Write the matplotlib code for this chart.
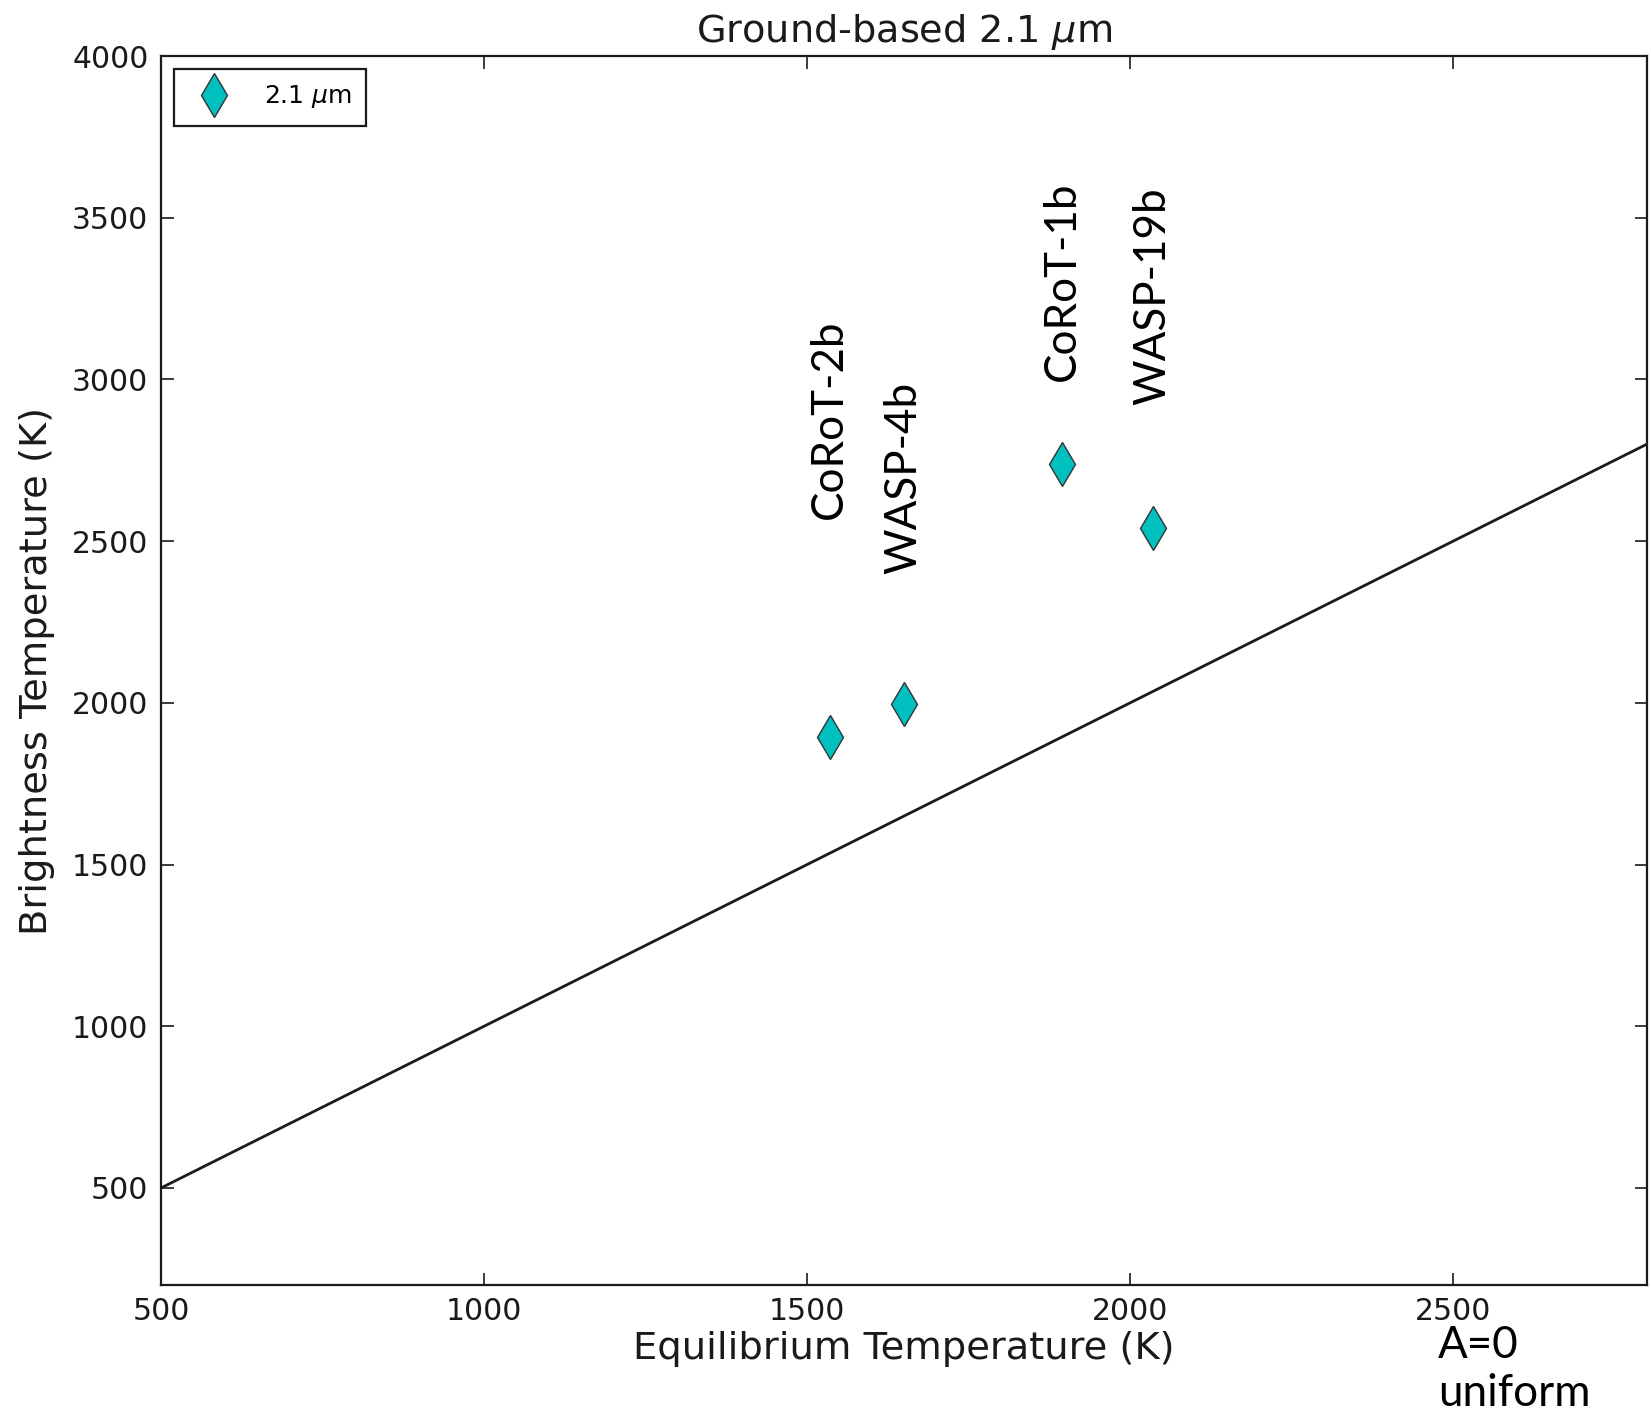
import numpy as np
import matplotlib
matplotlib.use("Agg")
import matplotlib.pyplot as plt

# planets: equilibrium temp vs 2.1 micron brightness temp
planets = ["CoRoT-2b", "WASP-4b", "CoRoT-1b", "WASP-19b"]
t_eq = [1535, 1650, 1895, 2035]
t_bright = [1893, 1995, 2740, 2542]
label_y = [2568, 2399, 2995, 2920]   # where the rotated names start

line_x = [500, 2800]
line_y = [500, 2800]   # A=0, uniform redistribution -> Tb = Teq

xticks = [500, 1000, 1500, 2000, 2500]
yticks = [500, 1000, 1500, 2000, 2500, 3000, 3500, 4000]

W, H = 1651, 1417
fig = plt.figure(figsize=(W / 100, H / 100), dpi=100)
ax = fig.add_axes([161 / W, 1 - 1285 / H, (1647 - 161) / W, (1285 - 56) / H])

ax.plot(line_x, line_y, color="#1a1a1a", lw=2.0)
ax.plot(t_eq, t_bright, linestyle="none", marker="d", ms=22,
        mfc="#00bfbf", mec="#333333", mew=1.0, label=r"2.1 $\mu$m")

for name, x, y in zip(planets, t_eq, label_y):
    ax.text(x, y, name, rotation=90, ha="center", va="bottom",
            fontsize=31.7, family="Lato", color="black")

ax.set_xlim(500, 2800)
ax.set_ylim(200, 4000)
ax.set_xticks(xticks)
ax.set_yticks(yticks)
ax.tick_params(direction="in", top=True, right=True, length=9, width=1.2,
               labelsize=21.5, pad=9, colors="#1a1a1a")
for s in ax.spines.values():
    s.set_linewidth(1.6)
    s.set_color("#1a1a1a")

ax.set_xlabel("Equilibrium Temperature (K)", fontsize=27.7, labelpad=3, color="#1a1a1a")
ax.set_ylabel("Brightness Temperature (K)", fontsize=27.7, labelpad=12, color="#1a1a1a")
ax.set_title(r"Ground-based 2.1 $\mu$m", fontsize=27.5, pad=10, color="#1a1a1a")

leg = ax.legend(loc="upper left", numpoints=1, fontsize=18, fancybox=False,
                framealpha=1, edgecolor="#1a1a1a", handlelength=2.0,
                handletextpad=1.0, borderpad=0.6, borderaxespad=0.5,
                markerscale=1.0)
leg.get_frame().set_linewidth(1.6)

# multi-line text: baseline anchors the last line
fig.text(1438 / W, 1 - 1406 / H, "A=0\nuniform", family="Lato", fontsize=31.7,
         ha="left", va="baseline", linespacing=1.22, color="black")

fig.savefig("out.png", dpi=100, facecolor="white")
